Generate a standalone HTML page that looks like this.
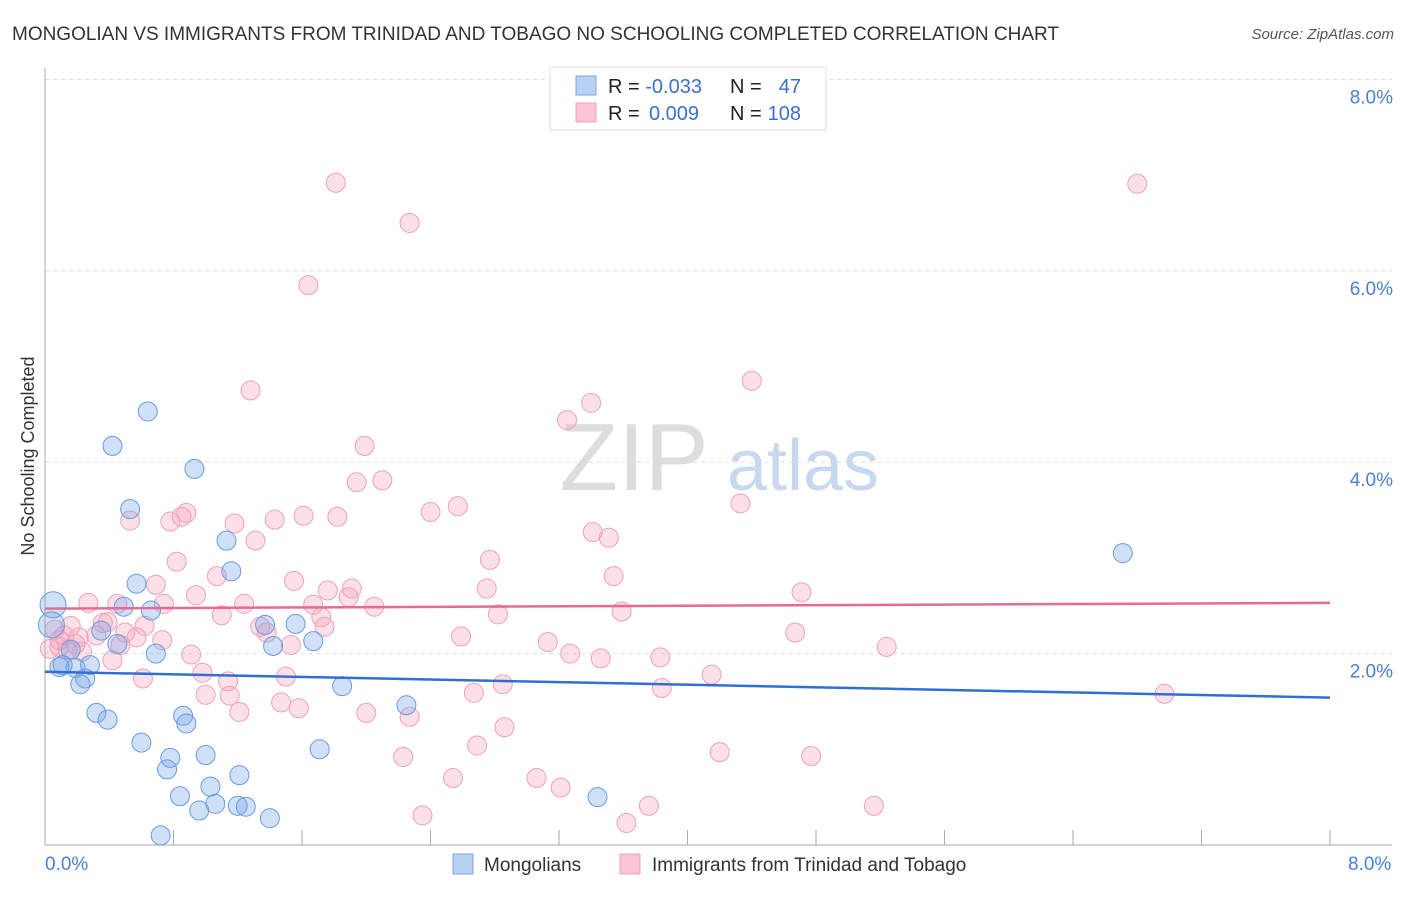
<!DOCTYPE html>
<html><head><meta charset="utf-8"><style>
body{margin:0;background:#fff;font-family:"Liberation Sans",sans-serif}
svg text{font-family:"Liberation Sans",sans-serif}
</style></head><body>
<svg id="c" width="1406" height="892">
<text x="12" y="40" font-size="19" fill="#333" textLength="1047">MONGOLIAN VS IMMIGRANTS FROM TRINIDAD AND TOBAGO NO SCHOOLING COMPLETED CORRELATION CHART</text>
<text x="1394" y="39" font-size="15" fill="#555" font-style="italic" text-anchor="end">Source: ZipAtlas.com</text>
<text x="634" y="490" font-size="96" fill="#ddd" font-family="Liberation Serif" text-anchor="middle">ZIP</text>
<text x="803" y="490" font-size="72" fill="#c8d8ef" text-anchor="middle">atlas</text>
<text transform="translate(34,456) rotate(-90)" font-size="18" fill="#333" text-anchor="middle">No Schooling Completed</text>
<g id="grid"></g><g id="pts"></g><g id="trend"></g>
<g>
<rect x="550" y="67" width="276" height="63" fill="#fff" stroke="#ddd"/>
<rect x="576" y="76" width="20" height="19" fill="#b8d0f2" stroke="#7ba3e0"/>
<rect x="576" y="103" width="20" height="19" fill="#fbc5d5" stroke="#f0a0b8"/>
<text x="608" y="93" font-size="20" fill="#222">R = <tspan fill="#3a70cc">-0.033</tspan></text>
<text x="730" y="93" font-size="20" fill="#222">N = </text><text x="801" y="93" font-size="20" fill="#3a70cc" text-anchor="end">47</text>
<text x="608" y="120" font-size="20" fill="#222">R = </text><text x="649" y="120" font-size="20" fill="#3a70cc">0.009</text>
<text x="730" y="120" font-size="20" fill="#222">N = </text><text x="801" y="120" font-size="20" fill="#3a70cc" text-anchor="end">108</text>
</g>
<g>
<rect x="453" y="854" width="20" height="20" fill="#b8d0f2" stroke="#7ba3e0"/>
<text x="484" y="871" font-size="19" fill="#333">Mongolians</text>
<rect x="620" y="854" width="20" height="20" fill="#fbc5d5" stroke="#f0a0b8"/>
<text x="652" y="871" font-size="19" fill="#333">Immigrants from Trinidad and Tobago</text>
</g>
</svg>
<script>
const xTickLabels=["0.0%","8.0%"];
const yTicks=[2,4,6,8];
const yTickLabels=["2.0%","4.0%","6.0%","8.0%"];
const blueX=[0.05,0.04,0.64,0.42,0.93,0.53,1.13,1.16,0.57,0.49,0.66,0.35,0.45,0.69,0.16,0.11,0.19,0.28,0.25,0.22,1.37,1.56,1.42,1.67,1.85,0.32,0.39,0.86,0.88,2.25,0.60,1.00,1.71,0.78,0.76,1.21,1.03,0.84,1.06,1.20,1.25,1.40,0.72,3.44,6.71,0.96,0.09];
const blueY=[2.51,2.30,4.53,4.17,3.93,3.51,3.18,2.86,2.73,2.49,2.45,2.24,2.10,2.00,2.04,1.88,1.85,1.88,1.74,1.68,2.30,2.31,2.08,2.13,1.66,1.38,1.31,1.35,1.27,1.46,1.07,0.94,1.00,0.91,0.79,0.73,0.61,0.51,0.43,0.41,0.40,0.28,0.10,0.50,3.05,0.36,1.86];
const pinkX=[1.81,6.80,2.27,1.64,1.28,4.40,3.40,3.25,1.99,1.94,2.10,2.40,2.57,4.33,0.88,0.85,0.78,0.53,1.18,1.43,1.61,1.82,1.31,3.41,3.51,0.82,2.77,1.07,3.54,0.69,1.55,1.76,1.91,1.89,2.75,4.71,0.94,0.27,0.45,0.74,1.24,1.67,2.05,1.10,2.82,3.59,0.06,0.12,0.36,0.39,0.50,0.62,1.72,1.74,1.34,0.21,0.32,0.57,0.73,0.09,0.19,0.47,1.38,1.53,2.59,3.13,4.67,5.24,0.91,0.42,3.27,3.46,3.83,0.23,0.14,0.98,1.50,4.15,0.61,1.14,1.00,1.15,1.47,2.67,2.85,3.84,6.97,1.58,1.21,2.00,2.27,2.86,2.69,4.20,4.77,2.23,2.54,3.06,3.21,3.76,2.35,3.62,5.16,0.09,0.16,0.03];
const pinkY=[6.92,6.91,6.50,5.85,4.75,4.85,4.62,4.44,4.17,3.79,3.81,3.48,3.54,3.57,3.47,3.43,3.38,3.39,3.36,3.40,3.44,3.43,3.18,3.27,3.21,2.96,2.98,2.81,2.81,2.72,2.76,2.66,2.68,2.59,2.68,2.64,2.61,2.53,2.52,2.52,2.52,2.51,2.49,2.40,2.41,2.44,2.25,2.19,2.32,2.33,2.22,2.29,2.38,2.28,2.28,2.17,2.19,2.17,2.14,2.07,2.10,2.09,2.22,2.09,2.18,2.12,2.22,2.07,1.99,1.93,2.00,1.95,1.96,2.02,2.04,1.80,1.76,1.78,1.74,1.71,1.57,1.56,1.49,1.59,1.68,1.64,1.58,1.43,1.39,1.38,1.34,1.23,1.04,0.97,0.93,0.92,0.70,0.70,0.60,0.41,0.31,0.23,0.41,2.14,2.29,2.05];
const blueTrend=[1.81,1.54];
const pinkTrend=[2.47,2.53];
const NS="http://www.w3.org/2000/svg";
const sx=v=>45+v/8*1285, sy=v=>845-v*95.7;
function mk(p,t,a){const e=document.createElementNS(NS,t);for(const k in a)e.setAttribute(k,a[k]);p.appendChild(e);return e;}
const grid=document.getElementById('grid');
yTicks.forEach((t,i)=>{
 const l=mk(grid,'line',{x1:45,x2:1392,y1:sy(t),y2:sy(t),stroke:'#ddd','stroke-dasharray':'4,4'});
 
 
 const tx=mk(grid,'text',{x:1393,y:sy(t)+24,'font-size':19,fill:'#4a7fd4','text-anchor':'end'});
 tx.textContent=yTickLabels[i];
 
 
});
const ax=mk(grid,'line',{x1:45,x2:45,y1:68,y2:845,stroke:'#aaa'});


const bx=mk(grid,'line',{x1:45,x2:1392,y1:845,y2:845,stroke:'#aaa'});


for(let i=1;i<=10;i++){const t=mk(grid,'line',{x1:sx(i*0.8),x2:sx(i*0.8),y1:830,y2:845,stroke:'#aaa'});
 
 }
[0,1].forEach(i=>{const t=mk(grid,'text',{x:i?1348:45,y:870,'font-size':19,fill:'#4a7fd4'});
 t.textContent=xTickLabels[i];
 
 });
const pts=document.getElementById('pts');
pinkX.forEach((x,i)=>{const c=mk(pts,'circle',{cx:sx(x),cy:sy(pinkY[i]),r:9.5,fill:'rgba(246,165,190,0.35)',stroke:'#f0a0b8','stroke-width':1});
 
 });
blueX.forEach((x,i)=>{const c=mk(pts,'circle',{cx:sx(x),cy:sy(blueY[i]),r:i<2?13:9.5,fill:'rgba(120,165,230,0.35)',stroke:'#6a9be0','stroke-width':1});
 
 });
const tr=document.getElementById('trend');
const bl=mk(tr,'line',{x1:sx(0),x2:sx(8),y1:sy(blueTrend[0]),y2:sy(blueTrend[1]),stroke:'#2f6fd6','stroke-width':2.5});


const pl=mk(tr,'line',{x1:sx(0),x2:sx(8),y1:sy(pinkTrend[0]),y2:sy(pinkTrend[1]),stroke:'#e86a94','stroke-width':2.5});


</script>
</body></html>
